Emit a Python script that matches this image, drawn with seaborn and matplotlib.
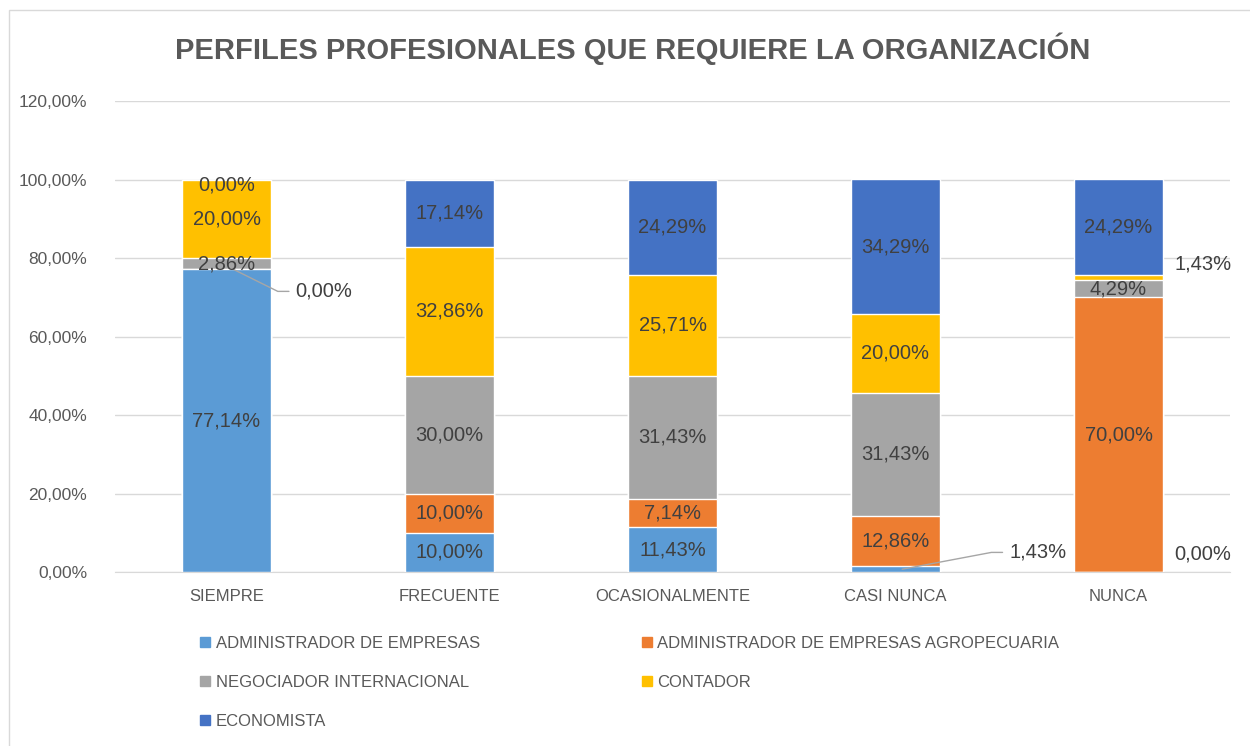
import numpy as np
import pandas as pd
from matplotlib import pyplot as plt
from matplotlib.patches import Rectangle
import seaborn as sns

categorias = ["SIEMPRE", "FRECUENTE", "OCASIONALMENTE", "CASI NUNCA", "NUNCA"]
series = ["ADMINISTRADOR DE EMPRESAS", "ADMINISTRADOR DE EMPRESAS AGROPECUARIA",
          "NEGOCIADOR INTERNACIONAL", "CONTADOR", "ECONOMISTA"]
admin = [77.14, 10.00, 11.43, 1.43, 0.00]
agro = [0.00, 10.00, 7.14, 12.86, 70.00]
negociador = [2.86, 30.00, 31.43, 31.43, 4.29]
contador = [20.00, 32.86, 25.71, 20.00, 1.43]
economista = [0.00, 17.14, 24.29, 34.29, 24.29]
colores = ["#5B9BD5", "#ED7D31", "#A5A5A5", "#FFC000", "#4472C4"]

valores = np.array([admin, agro, negociador, contador, economista]) / 100
acumulado = valores.cumsum(axis=0)

sns.set_style("white")
plt.rcParams['font.family'] = ['Liberation Sans Narrow', 'Liberation Sans', 'DejaVu Sans']
gris = "#595959"

fig = plt.figure(figsize=(12.5, 7.46), dpi=100)
ax = fig.add_axes([0.092, 0.2332, 0.892, 0.6314])

# barras apiladas: se dibujan los acumulados de arriba hacia abajo
for k in range(len(series) - 1, -1, -1):
    df = pd.DataFrame({"cat": categorias, "val": acumulado[k]})
    sns.barplot(data=df, x="cat", y="val", color=colores[k], width=0.4,
                saturation=1, ax=ax, zorder=3)

# etiquetas de datos (las de valor pequeño van fuera de la barra)
fuera = {(0, 1): (0.31, 0.715, True), (4, 3): (0.25, 0.785, False),
         (4, 0): (0.25, 0.045, False), (3, 0): (0.51, 0.05, True)}
for k in range(len(series)):
    for i in range(len(categorias)):
        v = valores[k, i]
        centro = acumulado[k, i] - v / 2
        texto = "{:.2f}%".format(v * 100).replace(".", ",")
        if (i, k) in fuera:
            dx, yy, linea = fuera[(i, k)]
            ax.text(i + dx, yy, texto, ha="left", va="center", fontsize=14.5,
                    color="#404040", zorder=5)
            if linea:
                ax.plot([i + 0.03, i + dx - 0.08, i + dx - 0.03],
                        [centro, yy, yy], color="#A6A6A6", lw=1, zorder=4)
            continue
        if k == 4 and i == 0:
            centro = 0.985
        ax.text(i, centro, texto, ha="center", va="center", fontsize=14.5,
                color="#404040", zorder=5)

ax.set_ylim(0, 1.2)
ax.set_xlim(-0.5, 4.5)
ticks = np.arange(0, 1.21, 0.2)
ax.set_yticks(ticks)
ax.set_yticklabels(["{:.2f}%".format(t * 100).replace(".", ",") for t in ticks])
ax.yaxis.grid(True, color="#D9D9D9", lw=1, zorder=0)
ax.set_axisbelow(True)
ax.set_xlabel("")
ax.set_ylabel("")
for s in ["top", "right", "left"]:
    ax.spines[s].set_visible(False)
ax.spines["bottom"].set_color("#D9D9D9")
ax.tick_params(axis="y", length=0, labelsize=12.5, labelcolor=gris, pad=20)
ax.tick_params(axis="x", length=0, labelsize=12, labelcolor=gris, pad=12)

fig.text(0.506, 0.935, "PERFILES PROFESIONALES QUE REQUIERE LA ORGANIZACIÓN",
         ha="center", va="center", fontsize=21, fontweight="bold", color=gris)

orden = [0, 2, 4, 1, 3]
handles = [Rectangle((0, 0), 1, 1, color=colores[k]) for k in orden]
fig.legend(handles, [series[k] for k in orden], ncol=2, loc="upper left",
           bbox_to_anchor=(0.148, 0.168), frameon=False, fontsize=12,
           labelcolor=gris, handlelength=0.6, handleheight=0.6,
           handletextpad=0.35, columnspacing=9.7, labelspacing=1.45)

fig.patches.append(Rectangle((0.007, -0.01), 1.1, 0.997, transform=fig.transFigure,
                             fill=False, edgecolor="#D9D9D9", lw=1))

plt.savefig("out.png")
